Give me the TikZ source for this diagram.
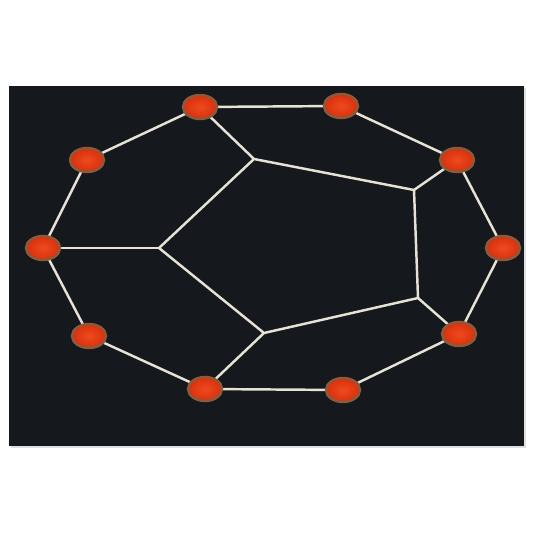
\documentclass[tikz,border=0pt]{standalone}
\usetikzlibrary{shapes.geometric}

\definecolor{board}{HTML}{15181C}
\definecolor{rod}{HTML}{E6E2D6}
\definecolor{bead}{HTML}{D8300E}
\definecolor{beadhi}{HTML}{EE4A1E}
\definecolor{rim}{HTML}{8A5A3A}

\begin{document}
\begin{tikzpicture}[x=0.02cm,y=-0.02cm,
    rodline/.style = {
      draw = rod,
      line width = 1.4pt
    },
    dot/.style = {
      draw = rim,
      line width = 1.4pt,
      shading = radial,
      inner color = beadhi,
      outer color = bead,
      ellipse,
      inner sep = 0pt,
      minimum width = 0.68cm,
      minimum height = 0.48cm
    }
  ]
  \useasboundingbox (0,0) rectangle (533,533);
  \fill[gray!25] (11,88) rectangle (526,448);
  \fill[board] (9,86) rectangle (524,446);

  % outer ring
  \coordinate (a1) at (200,107);
  \coordinate (a2) at (341,106);
  \coordinate (a3) at (457,160);
  \coordinate (a4) at (503,248);
  \coordinate (a5) at (459,334);
  \coordinate (a6) at (343,390);
  \coordinate (a7) at (205,389);
  \coordinate (a8) at (89,336);
  \coordinate (a9) at (43,248);
  \coordinate (a10) at (87,160);

  % inner pentagon
  \coordinate (b1) at (254,159);
  \coordinate (b2) at (414,190);
  \coordinate (b3) at (418,298);
  \coordinate (b4) at (264,333);
  \coordinate (b5) at (159,248);

  \draw[rodline] (a1) -- (a2) -- (a3) -- (a4) -- (a5) -- (a6) -- (a7) -- (a8) -- (a9) -- (a10) -- cycle;
  \draw[rodline] (b1) -- (b2) -- (b3) -- (b4) -- (b5) -- cycle;
  \draw[rodline] (a1) -- (b1);
  \draw[rodline] (a3) -- (b2);
  \draw[rodline] (a5) -- (b3);
  \draw[rodline] (a7) -- (b4);
  \draw[rodline] (a9) -- (b5);

  \foreach \i in {1,...,10}
    \node[dot] (d\i) at (a\i) {};
\end{tikzpicture}
\end{document}
